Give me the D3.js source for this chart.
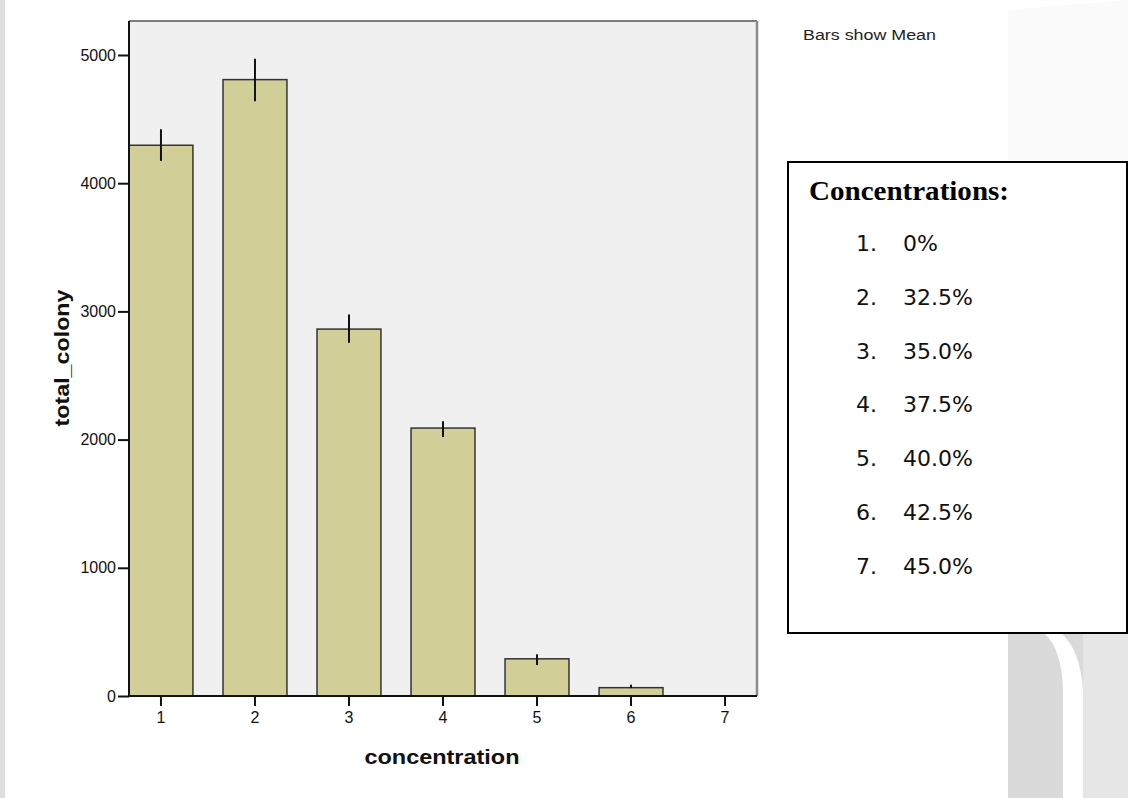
<!DOCTYPE html>
<html lang="en">
<head>
<meta charset="UTF-8">
<title>total_colony by concentration</title>
<script src="https://cdn.jsdelivr.net/npm/d3@7"></script>
<style>
  body { margin: 0; background: #fff; }
</style>
</head>
<body>
<div id="chart"></div>
<script>
// values
const categories = ["1", "2", "3", "4", "5", "6", "7"];
const means = [4296, 4808, 2862, 2090, 290, 65, 0];
const errLow = [4174, 4639, 2755, 2020, 242, 62, 0];
const errHigh = [4421, 4971, 2976, 2144, 325, 88, 0];
const yTicks = [0, 1000, 2000, 3000, 4000, 5000];
const legendTitle = "Concentrations:";
const legendItems = ["0%", "32.5%", "35.0%", "37.5%", "40.0%", "42.5%", "45.0%"];

const width = 1128, height = 798;
const plot = { left: 129, top: 21, right: 757, bottom: 696 };

const svg = d3.select("#chart").append("svg")
    .attr("width", width)
    .attr("height", height)
    .style("font-family", "'Liberation Sans', Arial, sans-serif");

// faint watermark bits in the background
const wm = svg.append("g");
wm.append("rect").attr("x", 0).attr("y", 0).attr("width", 5).attr("height", height).attr("fill", "#dedede");
wm.append("rect").attr("x", 1008).attr("y", 634).attr("width", 120).attr("height", 164).attr("fill", "#dadada");
wm.append("path")
    .attr("d", "M1045,634 Q1062,650 1063,690 L1063,798 L1083,798 L1083,690 Q1080,650 1062,634 Z")
    .attr("fill", "#fff");
wm.append("rect").attr("x", 1083).attr("y", 634).attr("width", 45).attr("height", 164).attr("fill", "#e6e6e6");
// very light letter shapes top right
wm.append("path")
    .attr("d", "M1008,10 L1128,0 L1128,160 L1008,160 Z")
    .attr("fill", "#fafafa");

const x = d3.scaleBand()
    .domain(categories)
    .range([plot.left, plot.right])
    .paddingInner(0.32)
    .paddingOuter(0);

const y = d3.scaleLinear()
    .domain([0, 5000 * (plot.bottom - plot.top) / (plot.bottom - 55)])
    .range([plot.bottom, plot.top]);

// plot background + frame
svg.append("rect")
    .attr("x", plot.left).attr("y", plot.top)
    .attr("width", plot.right - plot.left).attr("height", plot.bottom - plot.top)
    .attr("fill", "#f0f0f0");
svg.append("line")
    .attr("x1", plot.left).attr("x2", plot.right)
    .attr("y1", plot.top).attr("y2", plot.top)
    .attr("stroke", "#555").attr("stroke-width", 1.5);
svg.append("line")
    .attr("x1", plot.right).attr("x2", plot.right)
    .attr("y1", plot.top).attr("y2", plot.bottom)
    .attr("stroke", "#8a8a8a").attr("stroke-width", 2.5);

// bars
svg.append("g")
    .selectAll("rect")
    .data(categories)
    .join("rect")
    .attr("x", d => x(d))
    .attr("y", (d, i) => y(means[i]))
    .attr("width", x.bandwidth())
    .attr("height", (d, i) => y(0) - y(means[i]))
    .attr("fill", "#d2ce97")
    .attr("stroke", "#333")
    .attr("stroke-width", 1.5)
    .attr("display", (d, i) => means[i] > 0 ? null : "none");

// error bars
svg.append("g")
    .selectAll("line")
    .data(categories)
    .join("line")
    .attr("x1", d => x(d) + x.bandwidth() / 2)
    .attr("x2", d => x(d) + x.bandwidth() / 2)
    .attr("y1", (d, i) => y(errLow[i]))
    .attr("y2", (d, i) => y(errHigh[i]))
    .attr("stroke", "#111")
    .attr("stroke-width", 2);

// axes
const yAxis = svg.append("g")
    .attr("transform", `translate(${plot.left},0)`)
    .call(d3.axisLeft(y).tickValues(yTicks).tickFormat(d3.format("d"))
        .tickSize(11).tickPadding(2).tickSizeOuter(0));
yAxis.select(".domain").attr("stroke", "#111").attr("stroke-width", 2)
    .attr("d", `M0,${plot.bottom}V${plot.top}`);
yAxis.selectAll(".tick line").attr("stroke", "#111").attr("stroke-width", 2);
yAxis.selectAll(".tick text").attr("font-size", 16).attr("fill", "#111")
    .attr("font-family", "'Liberation Sans', Arial, sans-serif");

const xAxis = svg.append("g")
    .attr("transform", `translate(0,${plot.bottom})`)
    .call(d3.axisBottom(x).tickSize(10).tickPadding(6).tickSizeOuter(0));
xAxis.select(".domain").attr("stroke", "#111").attr("stroke-width", 2)
    .attr("d", `M${plot.left},0H${plot.right}`);
xAxis.selectAll(".tick line").attr("stroke", "#111").attr("stroke-width", 2);
xAxis.selectAll(".tick text").attr("font-size", 16).attr("fill", "#111")
    .attr("font-family", "'Liberation Sans', Arial, sans-serif");

// axis titles
svg.append("text")
    .attr("transform", "translate(69,358) rotate(-90)")
    .attr("text-anchor", "middle")
    .attr("font-size", 20)
    .attr("font-weight", "bold")
    .attr("textLength", 137)
    .attr("lengthAdjust", "spacingAndGlyphs")
    .attr("fill", "#111")
    .text("total_colony");

svg.append("text")
    .attr("x", 442).attr("y", 764)
    .attr("text-anchor", "middle")
    .attr("font-size", 20)
    .attr("font-weight", "bold")
    .attr("textLength", 155)
    .attr("lengthAdjust", "spacingAndGlyphs")
    .attr("fill", "#111")
    .text("concentration");

svg.append("text")
    .attr("x", 803).attr("y", 40)
    .attr("font-size", 14)
    .attr("textLength", 133)
    .attr("lengthAdjust", "spacingAndGlyphs")
    .attr("fill", "#222")
    .text("Bars show Mean");

// legend box for concentrations
const legend = svg.append("g");
legend.append("rect")
    .attr("x", 788).attr("y", 162)
    .attr("width", 339).attr("height", 471)
    .attr("fill", "#fff")
    .attr("stroke", "#000")
    .attr("stroke-width", 2);
legend.append("text")
    .attr("x", 809).attr("y", 200)
    .attr("font-family", "'Liberation Serif', 'Times New Roman', serif")
    .attr("font-weight", "bold")
    .attr("font-size", 28)
    .attr("textLength", 200)
    .attr("lengthAdjust", "spacingAndGlyphs")
    .text(legendTitle);

const rows = legend.selectAll("g.row")
    .data(legendItems)
    .join("g")
    .attr("class", "row")
    .attr("transform", (d, i) => `translate(0,${251 + i * 53.8})`)
    .attr("font-family", "'DejaVu Sans', sans-serif")
    .attr("font-size", 22)
    .attr("fill", "#111");
rows.append("text").attr("x", 856).text((d, i) => `${i + 1}.`);
rows.append("text").attr("x", 903).text(d => d);
</script>
</body>
</html>
